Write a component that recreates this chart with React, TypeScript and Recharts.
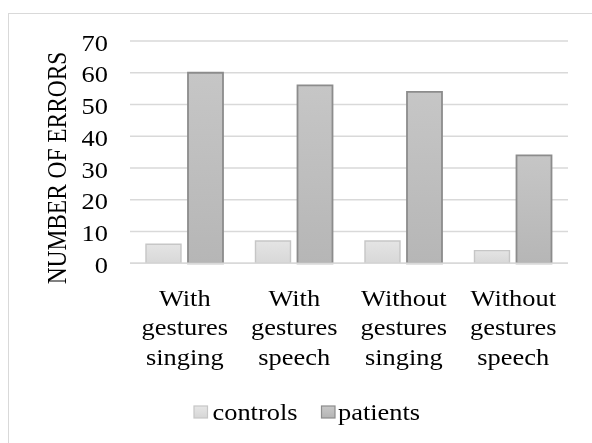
import React from 'react';
import { BarChart, Bar, XAxis, YAxis, CartesianGrid, Legend } from 'recharts';

const categories = [
  'With gestures singing',
  'With gestures speech',
  'Without gestures singing',
  'Without gestures speech',
];
const controls = [6, 7, 7, 4];
const patients = [60, 56, 54, 34];
const yTicks = [0, 10, 20, 30, 40, 50, 60, 70];
const seriesNames = ['controls', 'patients'];
const yLabel = 'NUMBER OF ERRORS';

const data = categories.map((c, i) => ({
  name: c,
  [seriesNames[0]]: controls[i],
  [seriesNames[1]]: patients[i],
}));

const FONT = '"Liberation Serif", "Times New Roman", serif';
const SX = 1.1;
const FS = 24;

const XTick = (props: any) => {
  const { x, payload } = props;
  const lines = String(payload.value).split(' ');
  return (
    <g>
      {lines.map((l, i) => (
        <g key={i} transform={`translate(${x},${297.5 + i * 29.7}) scale(${SX},1)`}>
          <text x={0} y={0} textAnchor="middle" fontFamily={FONT} fontSize={FS} fill="#000">
            {l}
          </text>
        </g>
      ))}
    </g>
  );
};

const YTick = (props: any) => {
  const { y, payload } = props;
  return (
    <g transform={`translate(100,${y + 1.5}) scale(${SX},1)`}>
      <text x={0} y={0} dy="0.34em" textAnchor="end" fontFamily={FONT} fontSize={FS} fill="#000">
        {payload.value}
      </text>
    </g>
  );
};

const YLabel = () => (
  <g transform={`translate(57.5,160) scale(1.2,1) rotate(-90)`}>
    <text x={0} y={0} textAnchor="middle" fontFamily={FONT} fontSize={23.4} fill="#000">
      {yLabel}
    </text>
  </g>
);

const LegendContent = () => (
  <svg width={576} height={36} style={{ display: 'block', overflow: 'visible' }}>
    <defs>
      <linearGradient id="lgC" x1="0" y1="0" x2="0" y2="1">
        <stop offset="0%" stopColor="#e6e6e6" />
        <stop offset="100%" stopColor="#d6d6d6" />
      </linearGradient>
      <linearGradient id="lgP" x1="0" y1="0" x2="0" y2="1">
        <stop offset="0%" stopColor="#c8c8c8" />
        <stop offset="100%" stopColor="#b4b4b4" />
      </linearGradient>
    </defs>
    <rect x={186} y={8} width={13.5} height={12} fill="url(#lgC)" stroke="#c6c6c6" strokeWidth={1.2} />
    <g transform={`translate(204.5,22) scale(${SX},1)`}>
      <text x={0} y={0} fontFamily={FONT} fontSize={FS} fill="#000">{seriesNames[0]}</text>
    </g>
    <rect x={313.5} y={8} width={13.5} height={12} fill="url(#lgP)" stroke="#8c8c8c" strokeWidth={1.2} />
    <g transform={`translate(330,22) scale(${SX},1)`}>
      <text x={0} y={0} fontFamily={FONT} fontSize={FS} fill="#000">{seriesNames[1]}</text>
    </g>
  </svg>
);

export default function App() {
  return (
    <div style={{ position: 'relative', width: 576, height: 427 }}>
      <div
        style={{
          position: 'fixed',
          left: 8,
          top: 13,
          right: 0,
          bottom: 0,
          borderLeft: '1px solid #d9d9d9',
          borderTop: '1px solid #d9d9d9',
          pointerEvents: 'none',
        }}
      />
      <BarChart
        width={576}
        height={427}
        data={data}
        margin={{ top: 33, right: 16, left: 0, bottom: 51.7 }}
        barSize={35}
        barGap={7}
      >
        <defs>
          <linearGradient id="gC" x1="0" y1="0" x2="0" y2="1">
            <stop offset="0%" stopColor="#e4e4e4" />
            <stop offset="100%" stopColor="#d8d8d8" />
          </linearGradient>
          <linearGradient id="gP" x1="0" y1="0" x2="0" y2="1">
            <stop offset="0%" stopColor="#c6c6c6" />
            <stop offset="100%" stopColor="#b6b6b6" />
          </linearGradient>
        </defs>
        <CartesianGrid vertical={false} stroke="#d9d9d9" strokeWidth={1.4} />
        <XAxis
          dataKey="name"
          height={120}
          axisLine={{ stroke: '#d9d9d9', strokeWidth: 1.4 }}
          tickLine={false}
          interval={0}
          tick={<XTick />}
        />
        <YAxis
          width={122}
          domain={[0, 70]}
          ticks={yTicks}
          axisLine={false}
          tickLine={false}
          tick={<YTick />}
          label={{ content: <YLabel /> }}
        />
        <Legend
          layout="horizontal"
          verticalAlign="middle"
          align="center"
          content={<LegendContent />}
          wrapperStyle={{ top: 390, left: 0, width: 576, height: 36 }}
        />
        <Bar
          dataKey={seriesNames[0]}
          fill="url(#gC)"
          stroke="#c6c6c6"
          strokeWidth={1.4}
          isAnimationActive={false}
        />
        <Bar
          dataKey={seriesNames[1]}
          fill="url(#gP)"
          stroke="#8c8c8c"
          strokeWidth={1.8}
          isAnimationActive={false}
        />
      </BarChart>
    </div>
  );
}
